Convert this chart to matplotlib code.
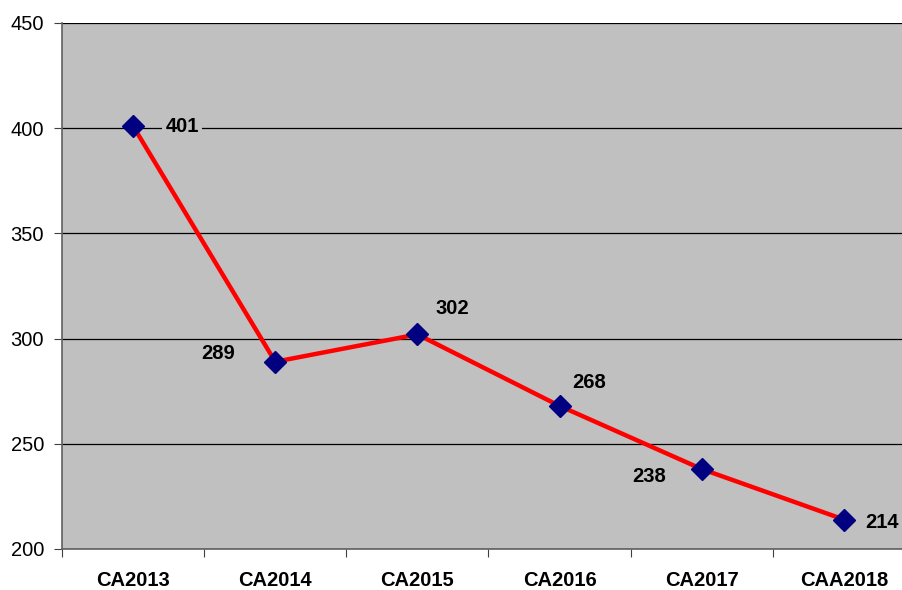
import matplotlib
matplotlib.use('Agg')
import matplotlib.pyplot as plt

plt.rcParams['font.family'] = ['Liberation Sans', 'DejaVu Sans']

categories = ['CA2013', 'CA2014', 'CA2015', 'CA2016', 'CA2017', 'CAA2018']
values = [401, 289, 302, 268, 238, 214]
# label offsets in pixels (dx, dy)
label_offsets = [(49, 0), (-57, 8), (35, 26), (30, 23), (-53, -7), (38, -3)]

fig = plt.figure(figsize=(9.03, 5.9), dpi=100)
ax = fig.add_axes([62 / 903, 1 - 549 / 590, (915 - 62) / 903, (549 - 23) / 590])
ax.set_facecolor('#C0C0C0')

x = range(len(categories))
ax.plot(x, values, color='#FF0000', lw=3.2, marker='D', markersize=11,
        markerfacecolor='#000080', markeredgecolor='#000080', zorder=3)

for i, v in enumerate(values):
    ax.annotate(str(v), (i, v), xytext=label_offsets[i], textcoords='offset pixels',
                ha='center', va='center', fontsize=14.5, fontweight='bold',
                bbox=dict(boxstyle='square,pad=0.15', fc='#C0C0C0', ec='none'), zorder=4)

ax.set_xlim(-0.5, 5.5)
ax.set_ylim(200, 450)
ax.set_yticks([200, 250, 300, 350, 400, 450])
ax.yaxis.grid(True, color='black', lw=0.9)
ax.set_axisbelow(True)

ax.set_xticks([i + 0.5 for i in range(-1, 6)])
ax.set_xticklabels([])
ax.set_xticks(list(x), minor=True)
ax.set_xticklabels(categories, minor=True, fontsize=14.5, fontweight='bold')
ax.tick_params(axis='x', which='minor', length=0, pad=16)
ax.tick_params(axis='x', which='major', length=6, color='#404040', direction='out')
ax.tick_params(axis='y', length=6, color='#404040', labelsize=14.5, pad=7)

for s in ['top', 'right']:
    ax.spines[s].set_visible(False)
for s in ['left', 'bottom']:
    ax.spines[s].set_color('#606060')
    ax.spines[s].set_linewidth(1.2)

fig.savefig('out.png', dpi=100)
